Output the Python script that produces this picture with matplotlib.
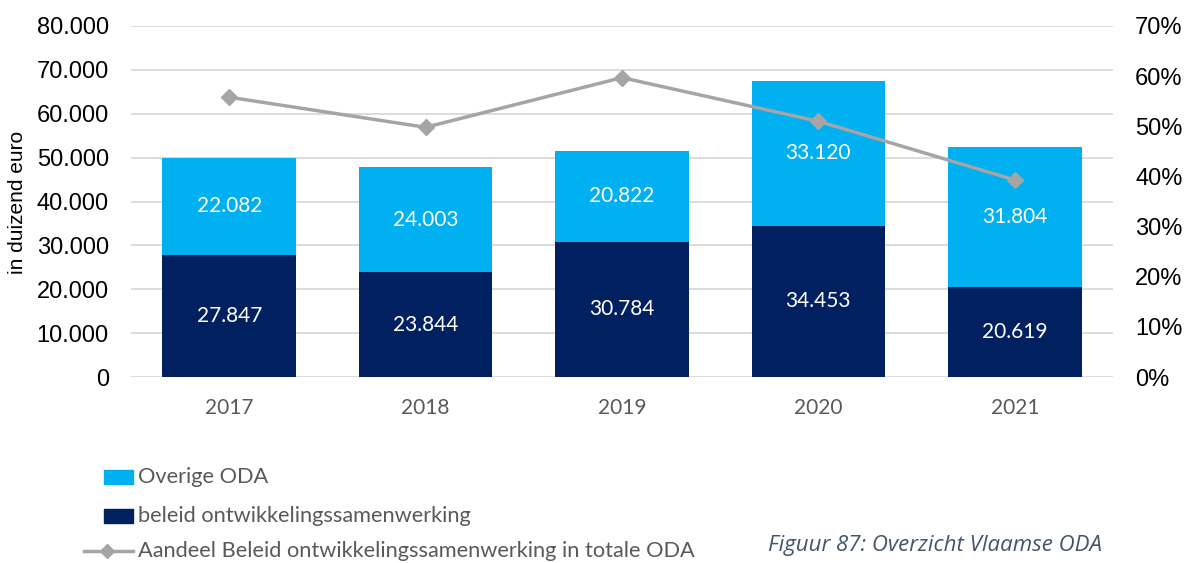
import numpy as np
import matplotlib.pyplot as plt
from matplotlib.lines import Line2D
from matplotlib.patches import Rectangle
from matplotlib.ticker import FuncFormatter

# Vlaamse ODA, in duizend euro
years = ['2017', '2018', '2019', '2020', '2021']
beleid = [27847, 23844, 30784, 34453, 20619]
overige = [22082, 24003, 20822, 33120, 31804]
aandeel = [55.8, 49.8, 59.7, 51.0, 39.3]  # % beleid in totale ODA

LIGHT = '#00B0F0'
DARK = '#002060'
GREY_LINE = '#A5A5A5'
W, H = 1189, 563

fig = plt.figure(figsize=(W / 100, H / 100), dpi=100)
ax = fig.add_axes([131 / W, 1 - 377 / H, (1113 - 131) / W, (377 - 26) / H])

x = np.arange(len(years))
w = 0.68
ax.bar(x, beleid, w, color=DARK, zorder=2)
ax.bar(x, overige, w, bottom=beleid, color=LIGHT, zorder=2)

def fmt(v):
    return f'{int(v):,}'.replace(',', '.')

for i in range(len(years)):
    ax.text(x[i], beleid[i] / 2, fmt(beleid[i]), ha='center', va='center',
            color='white', fontsize=15, family='Lato', zorder=3)
    ax.text(x[i], beleid[i] + overige[i] / 2, fmt(overige[i]), ha='center', va='center',
            color='white', fontsize=15, family='Lato', zorder=3)

ax.set_xlim(-0.5, len(years) - 0.5)
ax.set_ylim(0, 80000)
ax.set_yticks(range(0, 80001, 10000))
ax.yaxis.set_major_formatter(FuncFormatter(lambda v, p: fmt(v)))
ax.grid(axis='y', color='#D9D9D9', linewidth=1.3, zorder=0)
ax.set_axisbelow(True)
for s in ax.spines.values():
    s.set_visible(False)
ax.tick_params(axis='y', length=0, pad=16, labelsize=17, labelcolor='black')
ax.tick_params(axis='x', length=0, pad=15, labelsize=15, labelcolor='#595959')
ax.set_xticks(x)
ax.set_xticklabels(years, family='Lato')
for lbl in ax.get_yticklabels():
    lbl.set_family('Liberation Sans')
ax.set_ylabel('in duizend euro', fontsize=15, family='Liberation Sans')
ax.yaxis.set_label_coords(-(131 - 27) / (1113 - 131), (377 - 202) / (377 - 26))

ax2 = ax.twinx()
ax2.plot(x, aandeel, color=GREY_LINE, linewidth=2.5, marker='D', markersize=8, zorder=4)
ax2.set_ylim(0, 70)
ax2.set_yticks(range(0, 71, 10))
ax2.yaxis.set_major_formatter(FuncFormatter(lambda v, p: f'{int(v)}%'))
ax2.tick_params(axis='y', length=0, pad=16, labelsize=17, labelcolor='black')
for lbl in ax2.get_yticklabels():
    lbl.set_family('Liberation Sans')
for s in ax2.spines.values():
    s.set_visible(False)

# legend below the chart, laid out in figure pixels
def fx(px):
    return px / W

def fy(py):
    return 1 - py / H

labels = ['Overige ODA', 'beleid ontwikkelingssamenwerking',
          'Aandeel Beleid ontwikkelingssamenwerking in totale ODA']
rows = [477, 516, 551]
for colr, row in zip([LIGHT, DARK], rows[:2]):
    fig.add_artist(Rectangle((fx(104), fy(row + 7)), fx(133) - fx(104), 14 / H,
                             color=colr, transform=fig.transFigure))
fig.add_artist(Line2D([fx(84), fx(133)], [fy(rows[2]), fy(rows[2])], color=GREY_LINE,
                      linewidth=2.5, transform=fig.transFigure))
fig.add_artist(Line2D([fx(107)], [fy(rows[2])], color=GREY_LINE, marker='D',
                      markersize=7, transform=fig.transFigure))
for lab, row in zip(labels, rows):
    fig.text(fx(138), fy(row), lab, family='Lato', fontsize=15.7, color='#595959',
             ha='left', va='center')

fig.text(fx(768), fy(546), 'Figuur 87: Overzicht Vlaamse ODA', family='Open Sans',
         style='italic', fontsize=16, color='#44546A', va='center', ha='left')

fig.savefig('out.png', dpi=100)
